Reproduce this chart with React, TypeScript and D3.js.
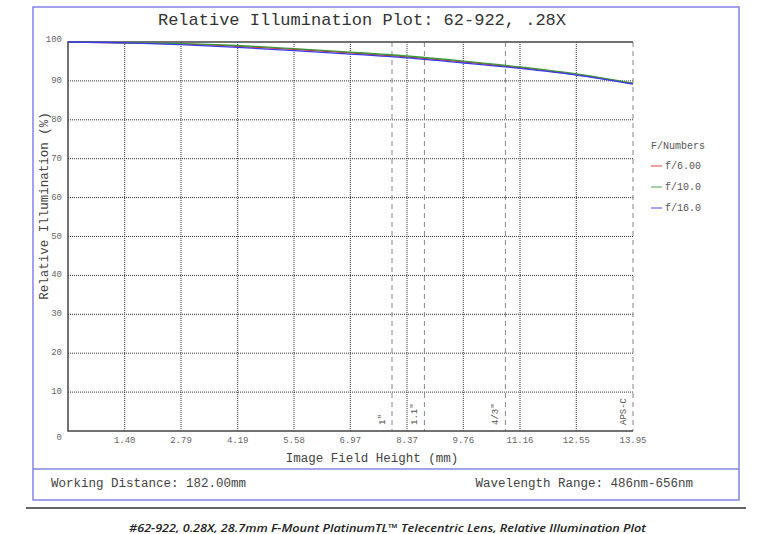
import React from "react";
import * as d3 from "d3";

const fieldHeights = [0, 1.395, 2.79, 4.185, 5.58, 6.975, 8.37, 9.765, 11.16, 12.555, 13.95];
const f600 = [100, 99.8, 99.5, 98.9, 98.1, 97.2, 96.2, 94.9, 93.4, 91.6, 89.3];
const f100 = [100, 99.8, 99.6, 99.1, 98.3, 97.4, 96.4, 95.1, 93.6, 91.8, 89.4];
const f160 = [100, 99.8, 99.3, 98.6, 97.8, 96.9, 95.9, 94.6, 93.2, 91.5, 89.2];
const seriesNames = ["f/6.00", "f/10.0", "f/16.0"];
const seriesColors = ["#d83030", "#3a9a3a", "#3a3af0"];
const xTickLabels = ["1.40", "2.79", "4.19", "5.58", "6.97", "8.37", "9.76", "11.16", "12.55", "13.95"];
const yTicks = [10, 20, 30, 40, 50, 60, 70, 80, 90, 100];
const sensorNames = ['1"', '1.1"', '4/3"', "APS-C"];
const sensorHalfDiag = [8.0, 8.8, 10.8, 13.95];

const W = 765;
const H = 534;
const mono = "'Liberation Mono', 'Courier New', monospace";

export default function App() {
  const x = d3.scaleLinear().domain([0, 13.95]).range([68, 633]);
  const y = d3.scaleLinear().domain([0, 100]).range([431, 42]);
  const series = [f600, f100, f160];
  const line = d3
    .line<number>()
    .x((_, i) => x(fieldHeights[i]))
    .y((d) => y(d))
    .curve(d3.curveMonotoneX);
  const xTickVals = xTickLabels.map((t) => +t);

  return (
    <svg width={W} height={H} style={{ position: "absolute", left: 0, top: 0, background: "#fff" }}>
      <rect x={0} y={0} width={W} height={H} fill="#fff" />
      {/* outer frame */}
      <rect x={33} y={7} width={706} height={493} fill="none" stroke="#8484e6" strokeWidth={1.5} />
      <line x1={33} x2={739} y1={469} y2={469} stroke="#8484e6" strokeWidth={1.5} />
      <line x1={26} x2={746} y1={508} y2={508} stroke="#333" strokeWidth={1.5} />

      <text x={362} y={25} textAnchor="middle" fontFamily={mono} fontSize={17} fill="#333">
        Relative Illumination Plot: 62-922, .28X
      </text>

      {/* grid */}
      {yTicks.filter((t) => t < 100).map((t) => (
        <line key={"gy" + t} x1={68} x2={633} y1={y(t)} y2={y(t)} stroke="#333" strokeWidth={1} strokeDasharray="1,1" />
      ))}
      {xTickVals.filter((t) => t < 13.9).map((t) => (
        <line key={"gx" + t} x1={x(t)} x2={x(t)} y1={42} y2={431} stroke="#333" strokeWidth={1} strokeDasharray="1,1" />
      ))}

      {/* sensor lines */}
      {sensorHalfDiag.map((v, i) => (
        <g key={"s" + i}>
          <line x1={x(v)} x2={x(v)} y1={42} y2={431} stroke="#888" strokeWidth={1} strokeDasharray="5,4" />
          <text
            transform={`translate(${x(v) - 9},425) rotate(-90)`}
            dominantBaseline="central"
            fontFamily={mono}
            fontSize={9}
            fill="#555"
          >
            {sensorNames[i]}
          </text>
        </g>
      ))}

      {/* plot border (left, top, bottom) */}
      <path d={`M633,42 H68 V431 H633`} fill="none" stroke="#444" strokeWidth={1.5} />

      {/* curves */}
      {series.map((s, i) => (
        <path key={"c" + i} d={line(s) || ""} fill="none" stroke={seriesColors[i]} strokeWidth={1.3} />
      ))}

      {/* y tick labels */}
      {yTicks.map((t) => (
        <text key={"yl" + t} x={62} y={y(t) - (t === 100 ? 2 : 0)} textAnchor="end" dominantBaseline="central" fontFamily={mono} fontSize={9} fill="#666">
          {t}
        </text>
      ))}
      <text x={62} y={438} textAnchor="end" dominantBaseline="central" fontFamily={mono} fontSize={9} fill="#666">
        0
      </text>

      {/* x tick labels */}
      {xTickLabels.map((t, i) => (
        <text key={"xl" + t} x={x(xTickVals[i])} y={441} textAnchor="middle" dominantBaseline="central" fontFamily={mono} fontSize={9} fill="#666">
          {t}
        </text>
      ))}

      {/* axis titles */}
      <text x={372} y={459} textAnchor="middle" dominantBaseline="central" fontFamily={mono} fontSize={12.5} fill="#444">
        Image Field Height (mm)
      </text>
      <text transform="translate(45,206) rotate(-90)" textAnchor="middle" dominantBaseline="central" fontFamily={mono} fontSize={12.5} fill="#444">
        Relative Illumination (%)
      </text>

      {/* legend */}
      <text x={651} y={146} dominantBaseline="central" fontFamily={mono} fontSize={10} fill="#555">
        F/Numbers
      </text>
      {seriesNames.map((n, i) => (
        <g key={"lg" + i}>
          <line x1={651} x2={662} y1={166 + i * 21} y2={166 + i * 21} stroke={seriesColors[i]} strokeWidth={1.2} opacity={0.75} />
          <text x={665} y={166 + i * 21} dominantBaseline="central" fontFamily={mono} fontSize={10} fill="#555">
            {n}
          </text>
        </g>
      ))}

      {/* footer */}
      <text x={51} y={484} dominantBaseline="central" fontFamily={mono} fontSize={12.5} fill="#444">
        Working Distance: 182.00mm
      </text>
      <text x={693} y={484} textAnchor="end" dominantBaseline="central" fontFamily={mono} fontSize={12.5} fill="#444">
        Wavelength Range: 486nm-656nm
      </text>

      {/* caption */}
      <text
        x={129}
        y={527}
        dominantBaseline="central"
        fontFamily="'Open Sans', sans-serif"
        fontStyle="italic"
        fontWeight={600}
        fontSize={11.5}
        fill="#222"
        textLength={517}
        lengthAdjust="spacingAndGlyphs"
      >
        #62-922, 0.28X, 28.7mm F-Mount PlatinumTL™ Telecentric Lens, Relative Illumination Plot
      </text>
    </svg>
  );
}
